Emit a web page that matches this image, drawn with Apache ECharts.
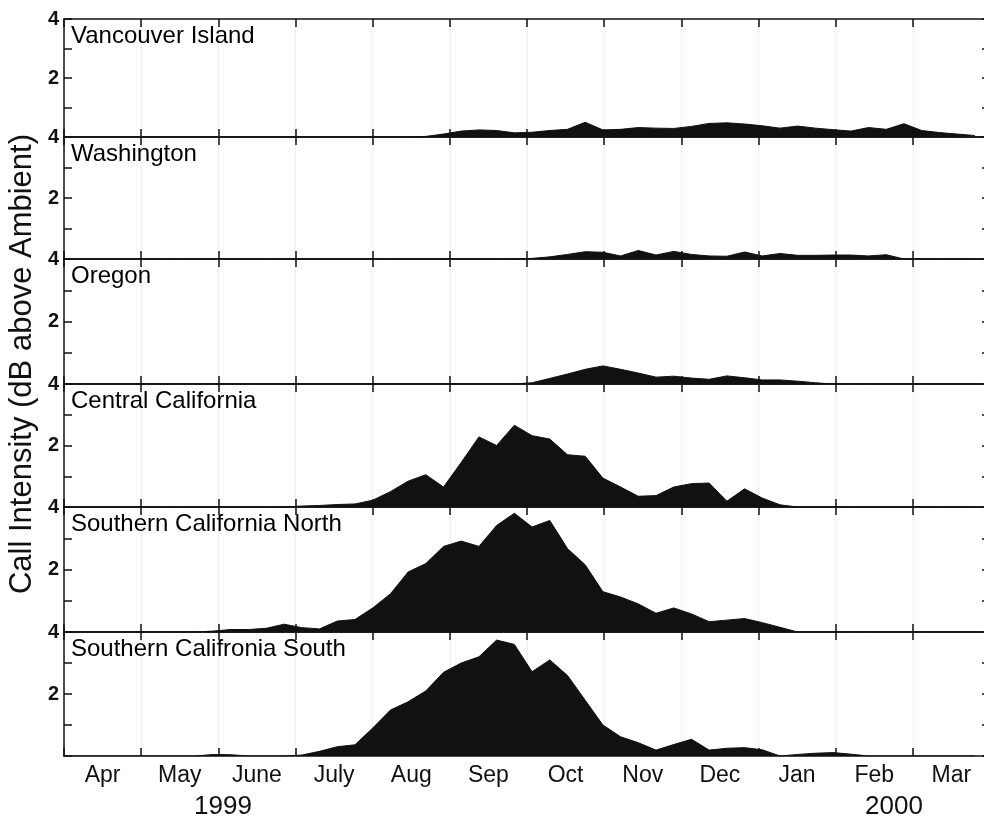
<!DOCTYPE html>
<html>
<head>
<meta charset="utf-8">
<script src="https://cdn.jsdelivr.net/npm/echarts@6/dist/echarts.min.js"></script>
<style>
  html, body { margin: 0; padding: 0; background: #fff; }
  #chart { width: 984px; height: 817px; }
</style>
</head>
<body>
<div id="chart"></div>
<script>
// month labels along the bottom, years underneath
const monthLabels = ['Apr', 'May', 'June', 'July', 'Aug', 'Sep', 'Oct', 'Nov', 'Dec', 'Jan', 'Feb', 'Mar'];
const yearLabels = ['1999', '2000'];
const regions = ['Vancouver Island', 'Washington', 'Oregon', 'Central California',
                 'Southern California North', 'Southern Califronia South'];

// weekly samples, first one 3 days after Apr 1 1999
const firstDay = 3;
const weekCount = 52;

// call intensity per week (dB above ambient)
const vancouverIsland = [0,0,0,0,0,0,0,0,0,0, 0,0,0,0,0,0,0,0,0,0,
  0.02,0.1,0.2,0.24,0.22,0.14,0.16,0.22,0.26,0.5, 0.24,0.26,0.32,0.3,0.29,0.36,0.46,0.48,0.44,0.38,
  0.3,0.37,0.3,0.25,0.2,0.32,0.26,0.45,0.22,0.15, 0.1,0.05];
const washington = [0,0,0,0,0,0,0,0,0,0, 0,0,0,0,0,0,0,0,0,0, 0,0,0,0,0,0,
  0.02,0.07,0.15,0.24,0.22,0.1,0.28,0.13,0.25,0.15, 0.1,0.09,0.23,0.1,0.18,0.12,0.12,0.13,0.13,0.1,
  0.14,0,0,0,0,0];
const oregon = [0,0,0,0,0,0,0,0,0,0, 0,0,0,0,0,0,0,0,0,0, 0,0,0,0,0,0,
  0.04,0.18,0.32,0.47,0.58,0.47,0.35,0.22,0.25,0.19, 0.15,0.26,0.2,0.13,0.13,0.09,0.04,0,0,0,
  0,0,0,0,0,0];
const centralCalifornia = [0,0,0,0,0,0,0,0,0,0, 0,0,0,0.03,0.05,0.08,0.1,0.22,0.5,0.84,
  1.05,0.65,1.45,2.28,2.0,2.66,2.32,2.21,1.7,1.65, 0.94,0.65,0.35,0.37,0.65,0.76,0.78,0.19,0.59,0.29,
  0.07,0,0,0,0,0,0,0,0,0, 0,0];
const socalNorth = [0,0,0,0,0,0,0,0,0.03,0.08, 0.08,0.12,0.25,0.14,0.1,0.35,0.4,0.77,1.22,1.92,
  2.19,2.74,2.91,2.74,3.41,3.8,3.36,3.57,2.67,2.15, 1.29,1.12,0.9,0.6,0.77,0.58,0.33,0.38,0.43,0.3,
  0.15,0,0,0,0,0,0,0,0,0, 0,0];
const socalSouth = [0,0,0,0,0,0,0,0,0.05,0.04, 0,0,0,0.03,0.15,0.3,0.36,0.9,1.48,1.75,
  2.1,2.7,3.0,3.2,3.74,3.6,2.72,3.1,2.6,1.8, 1.0,0.62,0.43,0.19,0.37,0.54,0.19,0.25,0.27,0.2,
  0,0.05,0.09,0.11,0.06,0,0,0,0,0, 0,0];

const panelValues = [vancouverIsland, washington, oregon, centralCalifornia, socalNorth, socalSouth];

// week -> position in months from Apr 1 (366 days in this year)
const weekPos = [];
for (let i = 0; i < weekCount; i++) weekPos.push((firstDay + 7 * i) / 30.5);

const panelTops = [19, 137, 259, 384, 507, 632, 756];
const ink = '#111';

let chart = echarts.init(document.getElementById('chart'));

const grids = [], xAxes = [], yAxes = [], series = [], graphics = [];
const tickStyle = { inside: true, length: 8, lineStyle: { color: ink, width: 1.5 } };
const lineStyle = { onZero: false, lineStyle: { color: ink, width: 1.5 } };

panelValues.forEach((vals, g) => {
    // the plot box runs a few pixels past the right edge of the window, as in the original
    grids.push({
        left: 64, width: 926, top: panelTops[g], height: panelTops[g + 1] - panelTops[g],
        outerBoundsMode: 'none', containLabel: false
    });
    xAxes.push({
        type: 'value', gridIndex: g, min: 0, max: 12, interval: 1, position: 'bottom',
        axisLine: lineStyle, axisTick: tickStyle, axisLabel: { show: false },
        splitLine: { show: true, lineStyle: { color: '#e2e2e2', type: 'dotted', width: 1 } }
    });
    xAxes.push({
        type: 'value', gridIndex: g, min: 0, max: 12, interval: 1, position: 'top',
        axisLine: lineStyle, axisTick: tickStyle, axisLabel: { show: false }, splitLine: { show: false }
    });
    yAxes.push({
        type: 'value', gridIndex: g, min: 0, max: 4, interval: 1, position: 'left',
        axisLine: lineStyle, axisTick: tickStyle, splitLine: { show: false },
        axisLabel: {
            margin: 5, color: ink, fontSize: 20, fontWeight: 'bold', fontFamily: 'Liberation Sans',
            formatter: v => (v === 2 || v === 4) ? String(v) : ''
        }
    });
    yAxes.push({
        type: 'value', gridIndex: g, min: 0, max: 4, interval: 1, position: 'right',
        axisLine: lineStyle, axisTick: tickStyle, axisLabel: { show: false }, splitLine: { show: false }
    });
    series.push({
        name: regions[g], type: 'line', xAxisIndex: 2 * g, yAxisIndex: 2 * g,
        data: vals.map((v, i) => [weekPos[i], v]),
        showSymbol: false, symbol: 'none',
        lineStyle: { color: ink, width: 1 },
        areaStyle: { color: ink, opacity: 1 },
        z: 3
    });
    graphics.push({
        type: 'text', left: 71, top: panelTops[g] + 5, z: 10,
        style: { text: regions[g], font: '24px "Liberation Sans"', fill: '#000' }
    });
});

// month names centred between the month ticks of the last panel
xAxes.push({
    type: 'category', gridIndex: 5, position: 'bottom', data: monthLabels, boundaryGap: true,
    axisLine: { show: false, onZero: false }, axisTick: { show: false }, splitLine: { show: false },
    axisLabel: { margin: 8, color: ink, fontSize: 23, fontFamily: 'Liberation Sans' }
});

graphics.push({
    type: 'text', left: 194, top: 794,
    style: { text: yearLabels[0], font: '26px "Liberation Sans"', fill: ink }
});
graphics.push({
    type: 'text', left: 865, top: 794,
    style: { text: yearLabels[1], font: '26px "Liberation Sans"', fill: ink }
});
graphics.push({
    type: 'text', x: 22, y: 364, rotation: Math.PI / 2,
    style: {
        text: 'Call Intensity (dB above Ambient)', font: '31px "Liberation Sans"', fill: ink,
        textAlign: 'center', textVerticalAlign: 'middle'
    }
});

const option = {
    backgroundColor: '#fff',
    animation: false,
    grid: grids,
    xAxis: xAxes,
    yAxis: yAxes,
    series: series,
    graphic: graphics
};
chart.setOption(option);
</script>
</body>
</html>
